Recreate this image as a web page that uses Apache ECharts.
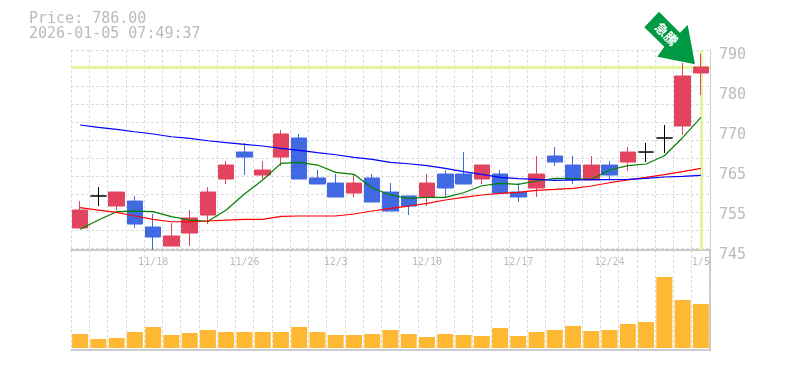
<!DOCTYPE html>
<html><head><meta charset="utf-8">
<style>html,body{margin:0;padding:0;background:#fff}#c{width:785px;height:370px}</style>
<script src="https://cdn.jsdelivr.net/npm/echarts@6/dist/echarts.min.js"></script>
</head><body><div id="c"></div>
<script>
const dates=['11/12','11/13','11/14','11/17','11/18','11/19','11/20','11/21','11/25','11/26','11/27','11/28','12/1','12/2','12/3','12/4','12/5','12/8','12/9','12/10','12/11','12/12','12/15','12/16','12/17','12/18','12/19','12/22','12/23','12/24','12/25','12/26','12/29','12/30','1/5'];
const opens=[750.44,757.56,755.33,756.44,750.67,746.44,749.33,753.33,761.33,767.33,762.22,766.22,770.44,761.56,760.44,758.22,761.56,758.44,757.56,757.33,762.44,762.44,761.33,762.44,758.44,759.33,766.44,764.44,761.11,764.44,765.11,767.33,770.44,773.11,784.89];
const closes=[754.44,757.56,758.44,751.33,748.44,748.67,752.67,758.44,764.44,766.22,763.33,771.33,761.33,760.22,757.33,760.44,756.22,754.22,755.33,760.44,759.33,760.22,764.44,758.22,757.33,762.44,765.11,761.11,764.44,762.22,767.33,767.33,770.44,784.22,786.22];
const highs=[756.44,759.56,758.44,757.56,753.56,751.56,754.44,759.56,765.33,769.33,765.33,772.22,771.33,763.33,762.44,762.44,762.44,760.44,757.56,762.44,763.33,767.33,764.44,763.33,760.44,766.44,768.44,766.44,766.44,765.33,768.44,769.33,773.33,787.11,789.11];
const lows=[750.44,755.33,754.44,750.44,745.6,746.44,746.44,751.33,760.22,762.22,761.33,764.22,761.33,760.22,757.33,757.33,756.22,754.22,753.33,755.33,757.33,760.22,760.22,758.22,756.22,757.33,764.22,760.22,761.11,761.33,763.11,765.11,767.11,771.11,780];
const dojiIndexes=[1,31,32];
const ma5=[750.16,752.22,754.07,754.22,754.07,752.96,752.22,751.93,754.44,758,761.11,764.82,765.04,764.44,762.82,762.38,759.33,757.78,757.04,757.27,757.27,758.29,759.84,760.38,760.16,760.89,761.49,761.4,761.27,763.33,764.29,764.67,766.51,770.51,775.04];
const ma25=[754.96,754.44,753.93,753.11,752.38,751.84,751.84,752,752.22,752.38,752.38,753.04,753.11,753.11,753.11,753.56,754.22,754.82,755.33,755.93,756.67,757.27,757.78,758.16,758.38,758.82,759.04,759.27,759.78,760.51,761.11,761.71,762.29,762.96,763.71];
const ma75=[773.33,772.82,772.38,771.84,771.33,770.73,770.38,769.84,769.4,769.04,768.67,768.16,767.71,767.18,766.73,766.16,765.71,765.04,764.73,764.29,763.71,762.96,762.38,761.71,761.4,761.27,761.04,761.11,761.18,761.18,761.27,761.49,761.78,761.93,762.16];
const volumes=[14,9,10,16,21,13,15,18,16,16,16,16,21,16,13,13,14,18,14,11,14,13,12,20,12,16,18,22,17,18,24,26,71,48,44];
const priceTicks=[745.6,754.5,763.3,772.2,781.1,790];
const priceTickLabels=['745','755','765','770','780','790'];
const currentLine=786.1;
const titleLines=['Price: 786.00','2026-01-05 07:49:37'];

const UP='#E3435F',DOWN='#4169E1',GRID='#dcdcdc',AXIS='#bdbdbd',TXT='#bbbbbb';
const MONO='"DejaVu Sans Mono",monospace';
const splitStyle={show:true,interval:0,lineStyle:{color:GRID,type:[3,2],width:1}};
const lineS=(name,data,color)=>({name,type:'line',data,xAxisIndex:0,yAxisIndex:0,symbol:'none',smooth:false,z:3,lineStyle:{color,width:1.2},silent:true});
const chart=echarts.init(document.getElementById('c'),null,{renderer:'canvas'});
chart.setOption({
 animation:false,backgroundColor:'#fff',
 grid:[{left:71,top:50,width:639,height:200},{left:71,top:250,width:639,height:100}],
 xAxis:[
  {type:'category',gridIndex:0,data:dates,boundaryGap:true,position:'bottom',
   axisLine:{show:true,onZero:false,lineStyle:{color:AXIS,width:1.5}},axisTick:{show:false},splitLine:splitStyle,
   axisLabel:{show:true,color:TXT,fontFamily:MONO,fontSize:10,margin:7,
     interval:(i)=>(i%5===4),hideOverlap:false}},
  {type:'category',gridIndex:1,data:dates,boundaryGap:true,
   axisLine:{show:true,onZero:false,lineStyle:{color:AXIS,width:1.5}},axisTick:{show:false},axisLabel:{show:false},splitLine:splitStyle}
 ],
 yAxis:[
  {type:'value',gridIndex:0,min:745.56,max:790,position:'right',scale:true,
   axisLine:{show:true,lineStyle:{color:'#d0d0d0',width:1}},axisTick:{show:false},splitLine:{show:false},
   axisLabel:{show:true,customValues:priceTicks,color:TXT,fontFamily:MONO,fontSize:15,margin:9,
     verticalAlign:'top',lineHeight:10,
     formatter:(v)=>priceTickLabels[priceTicks.indexOf(v)]}},
  {type:'value',gridIndex:0,min:0,max:44.44,interval:4,inverse:true,position:'left',
   axisLine:{show:false},axisTick:{show:false},axisLabel:{show:false},
   splitLine:{show:true,lineStyle:{color:GRID,type:[3,2],width:1}}},
  {type:'value',gridIndex:1,min:-2,max:98,position:'right',
   axisLine:{show:true,lineStyle:{color:AXIS,width:1.5}},axisTick:{show:false},axisLabel:{show:false},splitLine:{show:false}}
 ],
 series:[
  {type:'candlestick',xAxisIndex:0,yAxisIndex:0,barWidth:16,z:2,
   data:dates.map((d,i)=>{
     const value=[opens[i],closes[i],lows[i],highs[i]];
     return dojiIndexes.includes(i)?{value,itemStyle:{color:'#000',color0:'#000',borderColor:'#000',borderColor0:'#000',borderColorDoji:'#000'}}:value;
   }),
   itemStyle:{color:UP,color0:DOWN,borderColor:UP,borderColor0:DOWN,borderWidth:1},
   markLine:{silent:true,z:1,symbol:'none',label:{show:false},animation:false,
     lineStyle:{color:'#E2F5A0',width:3,type:'solid'},
     data:[{yAxis:currentLine},{xAxis:dates[dates.length-1]}]}},
  lineS('MA5',ma5,'#008000'),
  lineS('MA25',ma25,'#ff0000'),
  lineS('MA75',ma75,'#0000ff'),
  {type:'bar',xAxisIndex:1,yAxisIndex:2,data:volumes,barWidth:16,itemStyle:{color:'#FFB833'},silent:true}
 ],
 graphic:[
  {type:'text',left:29,top:12,style:{text:titleLines.join('\n'),fill:TXT,font:'15px '+MONO,lineHeight:15}},
  {type:'polygon',z:20,shape:{points:[[659,11.7],[680,32.7],[687.7,25],[695,64.3],[657.3,56.7],[664.3,46.7],[644.3,27.3]]},style:{fill:'#009A44'}},
  {type:'text',z:21,x:666.5,y:34,rotation:-Math.PI/4,style:{text:'急騰',fill:'#fff',font:'bold 13px "Noto Sans CJK JP"',align:'center',verticalAlign:'middle'}}
 ]
});
</script></body></html>
